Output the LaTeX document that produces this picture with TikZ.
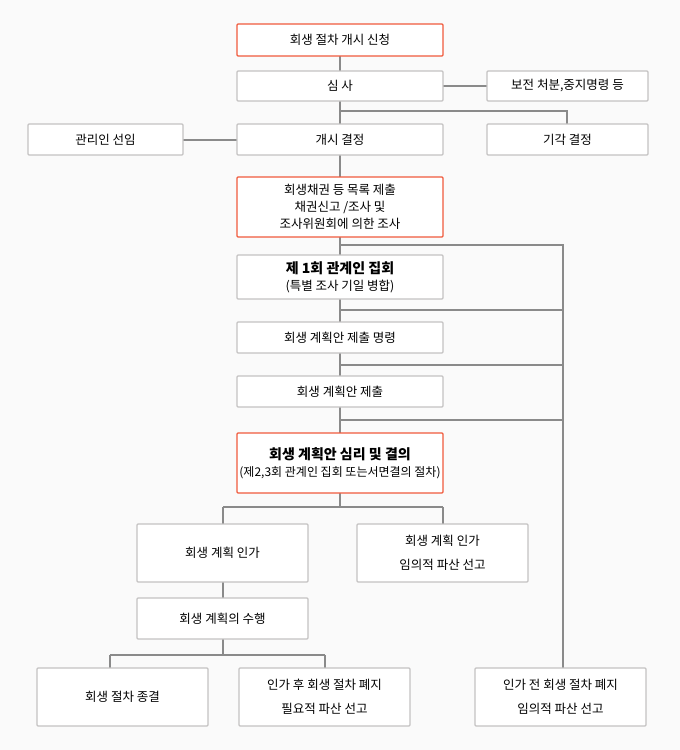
\documentclass[tikz,border=0pt]{standalone}
\usepackage{fontspec}
\setmainfont{Noto Sans CJK KR}
\definecolor{boxline}{HTML}{C4C2C2}
\definecolor{redline}{HTML}{F05A3C}
\definecolor{wire}{HTML}{8A8A8A}
\definecolor{paper}{HTML}{FAFAFA}
\tikzset{
  stage/.style={draw=boxline,line width=1.3pt,fill=white,rounded corners=1pt,align=center,inner sep=0pt,font=\fontsize{12.5}{17}\selectfont},
  keystage/.style={stage,draw=redline},
  widestage/.style={stage,font=\fontsize{12.5}{24}\selectfont},
  wire/.style={draw=wire,line width=1.5pt}
}
\newcommand{\stagebox}[6][stage]{% style, name, x1, y1, x2, y2
  \node[#1,minimum width={(#5-#3)*1pt},minimum height={(#6-#4)*1pt}] (#2) at ({(#3+#5)/2},{(#4+#6)/2})}
\begin{document}
\begin{tikzpicture}[x=1pt,y=-1pt]
  \fill[paper] (0,0) rectangle (680,750);
  \useasboundingbox (0,0) rectangle (680,750);
  % wires first
  \coordinate (s1) at (340,245);
  \coordinate (s2) at (340,310);
  \coordinate (s3) at (340,365);
  \coordinate (s4) at (340,420);
  \coordinate (r1) at (563,245);
  \coordinate (r2) at (563,310);
  \coordinate (r3) at (563,365);
  \coordinate (r4) at (563,420);
  \coordinate (j1) at (340,111);
  \coordinate (j2) at (567,111);
  \coordinate (k1) at (340,507);
  \coordinate (k2) at (223,507);
  \coordinate (k3) at (443,507);
  \coordinate (m1) at (223,655);
  \coordinate (m2) at (110,655);
  \coordinate (m3) at (325,655);
  \draw[wire] (340,40) -- (340,465);
  \draw[wire] (340,86) -- (567,86);
  \draw[wire] (j1) -- (j2) -- (567,140);
  \draw[wire] (105,140) -- (340,140);
  \draw[wire] (s1) -- (r1) -- (563,697);
  \draw[wire] (s2) -- (r2);
  \draw[wire] (s3) -- (r3);
  \draw[wire] (s4) -- (r4);
  \draw[wire] (340,480) -- (k1);
  \draw[wire] (k2) -- (k3);
  \draw[wire] (k2) -- (223,610) -- (m1);
  \draw[wire] (k3) -- (443,540);
  \draw[wire] (m2) -- (m3);
  \draw[wire] (m2) -- (110,690);
  \draw[wire] (m3) -- (325,690);
  % boxes
  \stagebox[keystage]{apply}{237}{24}{443}{56} {회생 절차 개시 신청};
  \stagebox{review}{237}{71}{443}{101} {심 사};
  \stagebox{preserve}{487}{71}{648}{101} {보전 처분,중지명령 등};
  \stagebox{trustee}{28}{124}{183}{155} {관리인 선임};
  \stagebox{open}{237}{124}{443}{155} {개시 결정};
  \stagebox{dismiss}{487}{124}{648}{155} {기각 결정};
  \stagebox[keystage]{claims}{237}{177}{443}{237} {회생채권 등 목록 제출\\채권신고 /조사 및\\조사위원회에 의한 조사};
  \stagebox{meeting}{237}{255}{443}{299} {\textbf{\fontsize{14}{17}\selectfont 제 1회 관계인 집회}\\(특별 조사 기일 병합)};
  \stagebox{order}{237}{322}{443}{353} {회생 계획안 제출 명령};
  \stagebox{submit}{237}{376}{443}{407} {회생 계획안 제출};
  \stagebox[keystage]{hearing}{237}{433}{443}{493} {\textbf{\fontsize{14}{17}\selectfont 회생 계획안 심리 및 결의}\\{\fontsize{12}{16}\selectfont(제2,3회 관계인 집회 또는서면결의 절차)}};
  \stagebox{approve}{137}{524}{308}{582} {회생 계획 인가};
  \stagebox[widestage]{bankA}{357}{524}{528}{582} {회생 계획 인가\\임의적 파산 선고};
  \stagebox{perform}{137}{598}{308}{639} {회생 계획의 수행};
  \stagebox{close}{37}{668}{208}{726} {회생 절차 종결};
  \stagebox[widestage]{bankB}{239}{668}{410}{726} {인가 후 회생 절차 폐지\\필요적 파산 선고};
  \stagebox[widestage]{bankC}{475}{668}{646}{726} {인가 전 회생 절차 폐지\\임의적 파산 선고};
\end{tikzpicture}
\end{document}
